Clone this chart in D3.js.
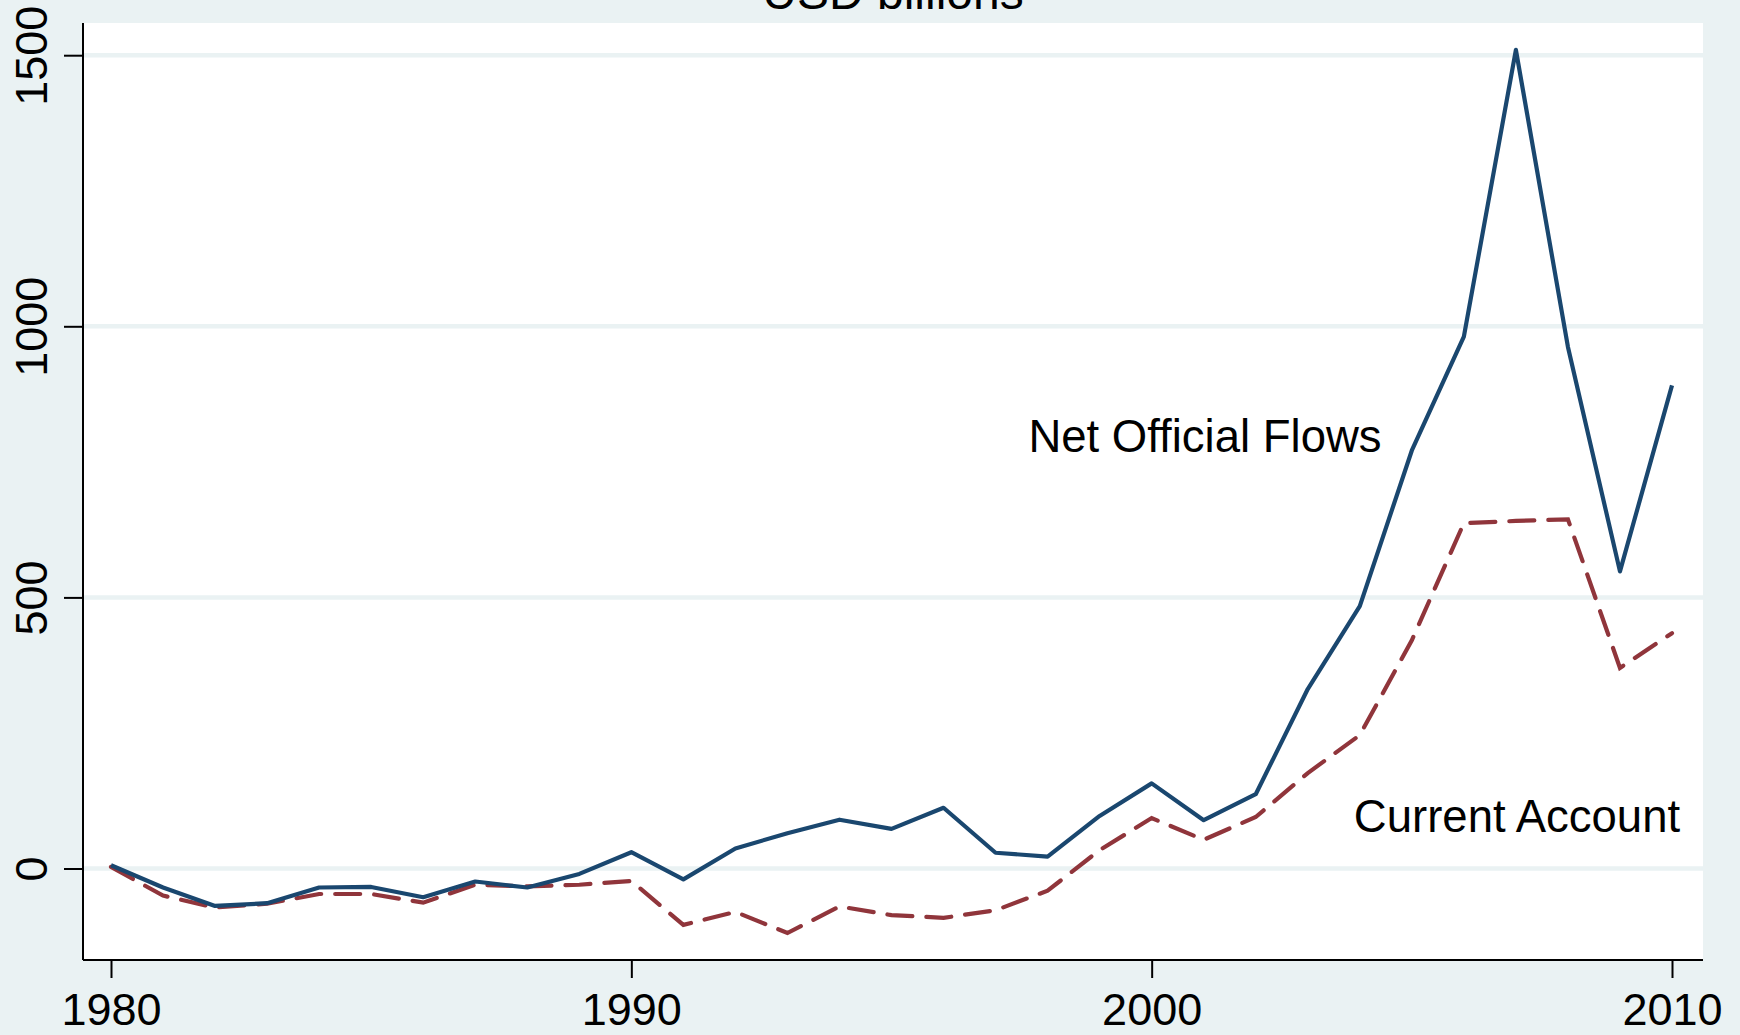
<!DOCTYPE html>
<html>
<head>
<meta charset="utf-8">
<script src="https://cdn.jsdelivr.net/npm/d3@7"></script>
<style>
html,body{margin:0;padding:0;background:#eaf2f3;}
svg{display:block;}
text{font-family:"Liberation Sans",Arial,sans-serif;fill:#000;}
</style>
</head>
<body>
<svg id="chart" width="1740" height="1035"></svg>
<script>
const years = [1980,1981,1982,1983,1984,1985,1986,1987,1988,1989,1990,1991,1992,1993,1994,1995,1996,1997,1998,1999,2000,2001,2002,2003,2004,2005,2006,2007,2008,2009,2010];
const netOfficialFlows = [6,-35,-69,-64,-35,-34,-53,-24,-35,-10,30,-20,37,65,90,73,112,29,22,97,157,89,137,331,484,771,981,1510,962,548,891];
const currentAccount = [3,-50,-72,-65,-47,-47,-63,-30,-33,-30,-23,-104,-80,-119,-70,-86,-91,-77,-41,34,93,53,95,176,246,421,637,641,644,370,434];
const xTicks = [1980,1990,2000,2010];
const yTicks = [0,500,1000,1500];
const title = "USD billions";
const seriesLabels = ["Net Official Flows","Current Account"];

const W = 1740, H = 1035;
const plot = {left:83, right:1703, top:23, bottom:960};
const svg = d3.select("#chart");

svg.append("rect").attr("x",0).attr("y",0).attr("width",W).attr("height",H).attr("fill","#eaf2f3");
svg.append("rect").attr("x",plot.left).attr("y",plot.top)
  .attr("width",plot.right-plot.left).attr("height",plot.bottom-plot.top).attr("fill","#ffffff");

const x = d3.scaleLinear().domain([1980,2010]).range([111,1672]);
const y = d3.scaleLinear().domain([0,1500]).range([868.5,55.2]);

// gridlines
svg.append("g").selectAll("line").data(yTicks).join("line")
  .attr("x1",plot.left).attr("x2",plot.right)
  .attr("y1",d=>y(d)).attr("y2",d=>y(d))
  .attr("stroke","#eaf2f3").attr("stroke-width",4.5);

// title (cut off at the top edge, as in the reference)
svg.append("text").attr("x",893).attr("y",9).attr("text-anchor","middle")
  .style("font-size","48px").text(title);

// lines
const line = d3.line().x(d=>x(d[0])).y(d=>y(d[1]));
svg.append("path").datum(years.map((yr,i)=>[yr,currentAccount[i]]))
  .attr("d",line).attr("fill","none").attr("stroke","#90353b")
  .attr("stroke-width",4.2).attr("stroke-dasharray","25,14").attr("stroke-linecap","round");
svg.append("path").datum(years.map((yr,i)=>[yr,netOfficialFlows[i]]))
  .attr("d",line).attr("fill","none").attr("stroke","#1a476f")
  .attr("stroke-width",4.2).attr("stroke-linejoin","round");

// axes
const xAxis = d3.axisBottom(x).tickValues(xTicks).tickFormat(d3.format("d")).tickSize(18).tickPadding(15);
const gx = svg.append("g").attr("transform",`translate(0,${plot.bottom})`).call(xAxis);
gx.select(".domain").remove();
gx.selectAll(".tick line").attr("stroke","#000").attr("stroke-width",2);
gx.selectAll(".tick text").style("font-size","45px").attr("fill","#000").attr("font-family",null);
svg.append("line").attr("x1",plot.left).attr("x2",plot.right).attr("y1",plot.bottom).attr("y2",plot.bottom)
  .attr("stroke","#000").attr("stroke-width",2);

const yAxis = d3.axisLeft(y).tickValues(yTicks).tickFormat(d3.format("d")).tickSize(19);
const gy = svg.append("g").attr("transform",`translate(${plot.left},0)`).call(yAxis);
gy.select(".domain").remove();
gy.selectAll(".tick line").attr("stroke","#000").attr("stroke-width",2);
gy.selectAll(".tick text").style("font-size","45px").attr("fill","#000").attr("font-family",null)
  .attr("x",null).attr("dy",null).attr("text-anchor","middle")
  .attr("transform","translate(-36,0) rotate(-90)");
svg.append("line").attr("x1",plot.left).attr("x2",plot.left).attr("y1",plot.top).attr("y2",plot.bottom)
  .attr("stroke","#000").attr("stroke-width",2);

// series labels
svg.append("text").attr("x",1205).attr("y",452).attr("text-anchor","middle")
  .style("font-size","45.5px").text(seriesLabels[0]);
svg.append("text").attr("x",1517).attr("y",832).attr("text-anchor","middle")
  .style("font-size","45.5px").text(seriesLabels[1]);
</script>
</body>
</html>
